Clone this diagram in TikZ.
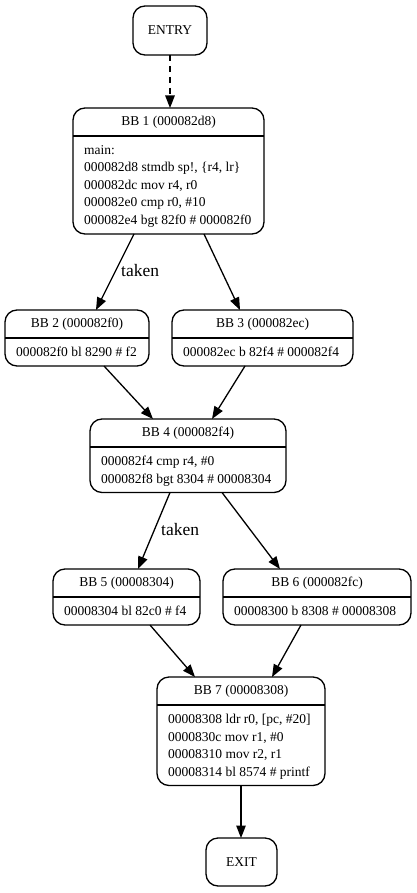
\documentclass[tikz,border=0pt]{standalone}
\usepackage{fontspec}
\setmainfont{Liberation Serif}
\usetikzlibrary{arrows.meta}
\begin{document}
\begin{tikzpicture}[x=1pt,y=-1pt,
  box/.style={draw, line width=1.3pt, rounded corners=12pt, inner sep=0pt, outer sep=0pt,
              font=\fontsize{13.5}{16}\selectfont},
  sepline/.style={line width=1.3pt},
  hdr/.style={font=\fontsize{13.5}{16}\selectfont, inner sep=0pt, anchor=base},
  ln/.style={font=\fontsize{13.5}{16}\selectfont, inner sep=0pt, anchor=base west},
  lab/.style={font=\fontsize{17.5}{20}\selectfont, inner sep=0pt, anchor=base west},
  arr/.style={line width=1.3pt, -{Triangle[length=12.5pt,width=9.5pt]}},
]
\useasboundingbox (0,0) rectangle (416,893);
\fill[white] (0,0) rectangle (416,893);

% ENTRY / EXIT
\node[box, minimum width=74pt, minimum height=49pt] (entry) at (170,30.5) {ENTRY};
\node[box, minimum width=71pt, minimum height=48pt] (exit) at (241.5,862) {EXIT};

% BB1
\node[box, minimum width=191pt, minimum height=126pt] (bb1) at (168.5,171) {};
\draw[sepline] ([yshift=-28pt]bb1.north west) -- ([yshift=-28pt]bb1.north east);
\node[hdr] (bb1h) at ([yshift=-17.5pt]bb1.north) {BB 1 (000082d8)};
\node[ln] (bb1a) at ([xshift=11pt,yshift=-46.5pt]bb1.north west) {main:};
\node[ln] (bb1b) at ([xshift=11pt,yshift=-64pt]bb1.north west) {000082d8 stmdb sp!, \{r4, lr\}};
\node[ln] (bb1c) at ([xshift=11pt,yshift=-81.5pt]bb1.north west) {000082dc mov r4, r0};
\node[ln] (bb1d) at ([xshift=11pt,yshift=-99pt]bb1.north west) {000082e0 cmp r0, \#10};
\node[ln] (bb1e) at ([xshift=11pt,yshift=-116.5pt]bb1.north west) {000082e4 bgt 82f0 \# 000082f0};

% BB2
\node[box, minimum width=144pt, minimum height=56pt] (bb2) at (77,338) {};
\draw[sepline] ([yshift=-28pt]bb2.north west) -- ([yshift=-28pt]bb2.north east);
\node[hdr] (bb2h) at ([yshift=-17.5pt]bb2.north) {BB 2 (000082f0)};
\node[ln] (bb2a) at ([xshift=11pt,yshift=-46.5pt]bb2.north west) {000082f0 bl 8290 \# f2};

% BB3
\node[box, minimum width=181pt, minimum height=56pt] (bb3) at (262.5,338) {};
\draw[sepline] ([yshift=-28pt]bb3.north west) -- ([yshift=-28pt]bb3.north east);
\node[hdr] (bb3h) at ([yshift=-17.5pt]bb3.north) {BB 3 (000082ec)};
\node[ln] (bb3a) at ([xshift=11pt,yshift=-46.5pt]bb3.north west) {000082ec b 82f4 \# 000082f4};

% BB4
\node[box, minimum width=196pt, minimum height=73.5pt] (bb4) at (188,455.75) {};
\draw[sepline] ([yshift=-28pt]bb4.north west) -- ([yshift=-28pt]bb4.north east);
\node[hdr] (bb4h) at ([yshift=-17.5pt]bb4.north) {BB 4 (000082f4)};
\node[ln] (bb4a) at ([xshift=11pt,yshift=-46.5pt]bb4.north west) {000082f4 cmp r4, \#0};
\node[ln] (bb4b) at ([xshift=11pt,yshift=-64pt]bb4.north west) {000082f8 bgt 8304 \# 00008304};

% BB5
\node[box, minimum width=147pt, minimum height=56pt] (bb5) at (126.5,597) {};
\draw[sepline] ([yshift=-28pt]bb5.north west) -- ([yshift=-28pt]bb5.north east);
\node[hdr] (bb5h) at ([yshift=-17.5pt]bb5.north) {BB 5 (00008304)};
\node[ln] (bb5a) at ([xshift=11pt,yshift=-46.5pt]bb5.north west) {00008304 bl 82c0 \# f4};

% BB6
\node[box, minimum width=188pt, minimum height=56pt] (bb6) at (317,597) {};
\draw[sepline] ([yshift=-28pt]bb6.north west) -- ([yshift=-28pt]bb6.north east);
\node[hdr] (bb6h) at ([yshift=-17.5pt]bb6.north) {BB 6 (000082fc)};
\node[ln] (bb6a) at ([xshift=11pt,yshift=-46.5pt]bb6.north west) {00008300 b 8308 \# 00008308};

% BB7
\node[box, minimum width=168pt, minimum height=108.5pt] (bb7) at (241,731.25) {};
\draw[sepline] ([yshift=-28pt]bb7.north west) -- ([yshift=-28pt]bb7.north east);
\node[hdr] (bb7h) at ([yshift=-17.5pt]bb7.north) {BB 7 (00008308)};
\node[ln] (bb7a) at ([xshift=11pt,yshift=-46.5pt]bb7.north west) {00008308 ldr r0, [pc, \#20]};
\node[ln] (bb7b) at ([xshift=11pt,yshift=-64pt]bb7.north west) {0000830c mov r1, \#0};
\node[ln] (bb7c) at ([xshift=11pt,yshift=-81.5pt]bb7.north west) {00008310 mov r2, r1};
\node[ln] (bb7d) at ([xshift=11pt,yshift=-99pt]bb7.north west) {00008314 bl 8574 \# printf};

% edges
\draw[arr, dash pattern=on 6pt off 5pt] (entry.south) -- (entry.south |- bb1.north);
\draw[arr] ([xshift=-34.5pt]bb1.south) -- ([xshift=19pt]bb2.north);
\draw[arr] ([xshift=35.5pt]bb1.south) -- ([xshift=-22.5pt]bb3.north);
\draw[arr] ([xshift=27pt]bb2.south) -- ([xshift=-35pt]bb4.north);
\draw[arr] ([xshift=-17.5pt]bb3.south) -- ([xshift=24pt]bb4.north);
\draw[arr] ([xshift=-18pt]bb4.south) -- ([xshift=11.5pt]bb5.north);
\draw[arr] ([xshift=34pt]bb4.south) -- ([xshift=-37pt]bb6.north);
\draw[arr] ([xshift=23.5pt]bb5.south) -- ([xshift=-46pt]bb7.north);
\draw[arr] ([xshift=-16pt]bb6.south) -- ([xshift=31pt]bb7.north);
\draw[arr] (bb7.south) -- (exit.north -| bb7.south);

% labels
\node[lab] (t1) at (121,276) {taken};
\node[lab] (t2) at (161,535) {taken};
\end{tikzpicture}
\end{document}
